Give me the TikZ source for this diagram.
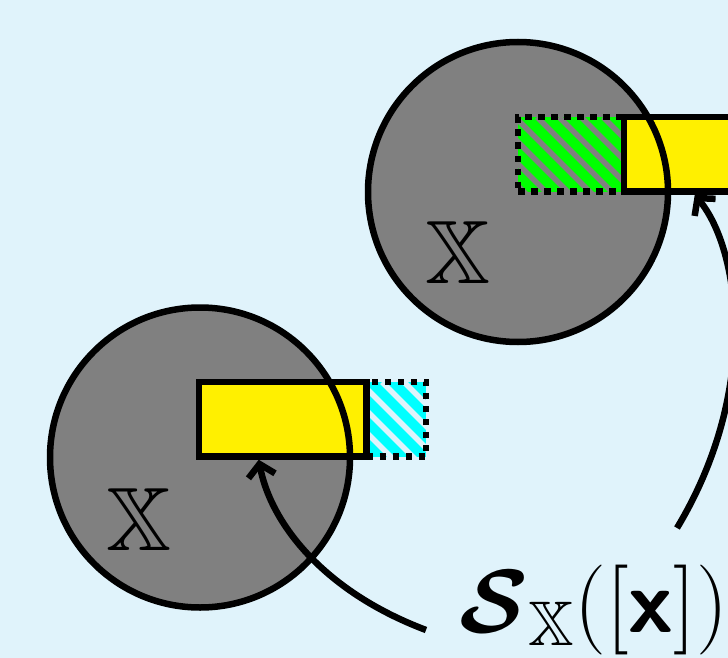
\RequirePackage{fix-cm}
\documentclass[tikz,border=0pt]{standalone}
\usepackage{amsmath,amssymb}
\usetikzlibrary{arrows.meta}
\definecolor{bg}{RGB}{224,243,251}
\definecolor{ylw}{RGB}{255,240,0}
\definecolor{grn}{RGB}{0,255,0}
\definecolor{cyn}{RGB}{0,255,255}
\definecolor{gry}{RGB}{128,128,128}
\begin{document}
\begin{tikzpicture}[x=1pt,y=-1pt,
  disk/.style={circle,fill=gry,minimum size=300pt,inner sep=0pt},
  rim/.style={circle,draw=black,line width=6.5pt,minimum size=300pt,inner sep=0pt},
  bar/.style={rectangle,draw=black,fill=ylw,line width=6.5pt,inner sep=0pt,minimum height=74.5pt},
  hatchbox/.style={rectangle,inner sep=0pt,minimum height=74.5pt,line width=6.5pt,draw=black,dash pattern=on 6.5pt off 6.5pt},
  stripe/.style={line width=5.5pt},
  lbl/.style={inner sep=0pt,font=\fontsize{90}{100}\selectfont},
  ptr/.style={draw=black,line width=6.5pt,-{Straight Barb[length=12pt,width=27pt]}}
]
\useasboundingbox (0,0) rectangle (728,658);
\fill[bg] (0,0) rectangle (728,658);

% disks
\node[disk] (c1) at (200,457.5) {};
\node[disk] (c2) at (518,192) {};

% lower hatched box
\fill[cyn] (366.5,382) rectangle (426,456.5);
\begin{scope}
\clip (366.5,382) rectangle (426,456.5);
\foreach \k in {-5,...,3} \draw[stripe,bg] (382+22*\k,382) -- ++(120,120);
\end{scope}
\node[hatchbox,minimum width=59.5pt] (h1) at (396.25,419.25) {};
\node[bar,minimum width=167.5pt] (b1) at (282.75,419.25) {};

% upper hatched box
\fill[grn] (518,117) rectangle (624,191.5);
\begin{scope}
\clip (518,117) rectangle (624,191.5);
\foreach \k in {-5,...,5} \draw[stripe,gry] (537+22*\k,117) -- ++(120,120);
\end{scope}
\node[hatchbox,minimum width=106pt] (h2) at (571,154.25) {};
\node[bar,minimum width=200pt] (b2) at (724,154.25) {};

% rims
\node[rim] at (c1) {};
\node[rim] at (c2) {};

% labels in disks
\node[lbl,anchor=base] (x1) at (138.5,550) {$\mathbb{X}$};
\node[lbl,anchor=base] (x2) at (457.5,283) {$\mathbb{X}$};

% main label
\node[lbl,anchor=base west] (lab) at (459,632) {$\boldsymbol{\mathcal{S}}_{\mathbb{X}}([\boldsymbol{\mathsf{x}}])$};

% pointers
\coordinate (s1) at (426,630);
\coordinate (s2) at (677,528);
\draw[ptr] (s1) .. controls (320,590) and (270,520) .. ([xshift=63pt]b1.south west);
\draw[ptr] (s2) .. controls (760,390) and (740,250) .. ([xshift=74pt]b2.south west);
\end{tikzpicture}
\end{document}
